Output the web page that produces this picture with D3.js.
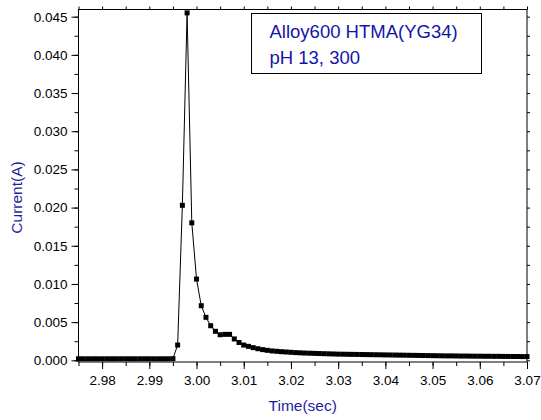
<!DOCTYPE html>
<meta charset="utf-8">
<script src="https://d3js.org/d3.v7.min.js"></script>
<title>Current transient</title>
<style>
  body { margin: 0; background: white; }
  svg text { font-family: "Liberation Sans", Arial, sans-serif; }
</style>
<div id="chart"></div>
<script>

// time (sec), one sample every millisecond
var time = [
  2.975, 2.976, 2.977, 2.978, 2.979, 2.980, 2.981, 2.982, 2.983, 2.984,
  2.985, 2.986, 2.987, 2.988, 2.989, 2.990, 2.991, 2.992, 2.993, 2.994,
  2.995, 2.996, 2.997, 2.998, 2.999, 3.000, 3.001, 3.002, 3.003, 3.004,
  3.005, 3.006, 3.007, 3.008, 3.009, 3.010, 3.011, 3.012, 3.013, 3.014,
  3.015, 3.016, 3.017, 3.018, 3.019, 3.020, 3.021, 3.022, 3.023, 3.024,
  3.025, 3.026, 3.027, 3.028, 3.029, 3.030, 3.031, 3.032, 3.033, 3.034,
  3.035, 3.036, 3.037, 3.038, 3.039, 3.040, 3.041, 3.042, 3.043, 3.044,
  3.045, 3.046, 3.047, 3.048, 3.049, 3.050, 3.051, 3.052, 3.053, 3.054,
  3.055, 3.056, 3.057, 3.058, 3.059, 3.060, 3.061, 3.062, 3.063, 3.064,
  3.065, 3.066, 3.067, 3.068, 3.069, 3.070
];

// current (A)
var current = [
  0.00020, 0.00020, 0.00020, 0.00020, 0.00020, 0.00020, 0.00020, 0.00020, 0.00020, 0.00020,
  0.00020, 0.00020, 0.00020, 0.00020, 0.00020, 0.00020, 0.00020, 0.00020, 0.00020, 0.00020,
  0.00022, 0.00200, 0.02030, 0.04550, 0.01800, 0.01064, 0.00715, 0.00563, 0.00453, 0.00380,
  0.00335, 0.00340, 0.00340, 0.00280, 0.00233, 0.00200, 0.00183, 0.00166, 0.00152, 0.00140,
  0.00131, 0.00123, 0.00118, 0.00113, 0.00109, 0.00105, 0.00101, 0.00098, 0.00095, 0.00093,
  0.00091, 0.00089, 0.00087, 0.00085, 0.00083, 0.00081, 0.00080, 0.00079, 0.00078, 0.00077,
  0.00076, 0.00075, 0.00074, 0.00073, 0.00072, 0.00071, 0.00070, 0.00069, 0.00068, 0.00067,
  0.00066, 0.00065, 0.00064, 0.00063, 0.00062, 0.00061, 0.00060, 0.00059, 0.00058, 0.00058,
  0.00057, 0.00056, 0.00056, 0.00055, 0.00054, 0.00054, 0.00053, 0.00053, 0.00052, 0.00052,
  0.00051, 0.00051, 0.00050, 0.00050, 0.00049, 0.00049
];

var xTicks = [2.98, 2.99, 3.00, 3.01, 3.02, 3.03, 3.04, 3.05, 3.06, 3.07];
var yTicks = [0.000, 0.005, 0.010, 0.015, 0.020, 0.025, 0.030, 0.035, 0.040, 0.045];
var legendLines = ["Alloy600 HTMA(YG34)", "pH 13, 300"];

var data = time.map(function(t, i) { return { t: t, c: current[i] }; });

var W = 541, H = 420;
var margin = {top: 9.5, right: 14, bottom: 58, left: 78.5},
    width = W - margin.left - margin.right,
    height = H - margin.top - margin.bottom;

var svg = d3.select("#chart")
  .append("svg")
    .attr("width", W)
    .attr("height", H)
  .append("g")
    .attr("transform", "translate(" + margin.left + "," + margin.top + ")");

var x = d3.scaleLinear().domain([2.975, 3.07]).range([0, width]);
var y = d3.scaleLinear().domain([-0.00022, 0.04594]).range([height, 0]);

var xMinor = d3.range(2.975, 3.0701, 0.005);
var yMinor = d3.range(0, 0.0459, 0.0025);

function styleAxis(g) {
  g.select(".domain").remove();
  g.selectAll("line").attr("stroke", "#000");
  g.selectAll("text").attr("fill", "#000").style("font-size", "13.5px");
}

// bottom axis: minor then major
svg.append("g")
    .attr("transform", "translate(0," + height + ")")
    .call(d3.axisBottom(x).tickValues(xMinor).tickSize(4).tickFormat(""))
    .call(styleAxis);
svg.append("g")
    .attr("transform", "translate(0," + height + ")")
    .call(d3.axisBottom(x).tickValues(xTicks).tickSize(7).tickPadding(6).tickFormat(d3.format(".2f")))
    .call(styleAxis);

// top axis ticks
svg.append("g")
    .call(d3.axisTop(x).tickValues(xMinor).tickSize(3).tickFormat(""))
    .call(styleAxis);

// left axis
svg.append("g")
    .call(d3.axisLeft(y).tickValues(yMinor).tickSize(4).tickFormat(""))
    .call(styleAxis);
svg.append("g")
    .call(d3.axisLeft(y).tickValues(yTicks).tickSize(7).tickPadding(4).tickFormat(d3.format(".3f")))
    .call(styleAxis);

// right axis ticks
svg.append("g")
    .attr("transform", "translate(" + width + ",0)")
    .call(d3.axisRight(y).tickValues(yMinor).tickSize(3).tickFormat(""))
    .call(styleAxis);

// frame
svg.append("rect")
    .attr("width", width)
    .attr("height", height)
    .attr("fill", "none")
    .attr("stroke", "#000")
    .attr("stroke-width", 1);

// series
var line = d3.line()
    .x(function(d) { return x(d.t); })
    .y(function(d) { return y(d.c); });

svg.append("path")
    .datum(data)
    .attr("fill", "none")
    .attr("stroke", "#000")
    .attr("stroke-width", 1)
    .attr("d", line);

var ms = 5;
svg.selectAll("rect.pt")
  .data(data)
  .enter()
  .append("rect")
    .attr("class", "pt")
    .attr("x", function(d) { return x(d.t) - ms / 2; })
    .attr("y", function(d) { return y(d.c) - ms / 2; })
    .attr("width", ms)
    .attr("height", ms)
    .attr("fill", "#000");

// axis titles
var titleColor = "#1f1f9e";
svg.append("text")
    .attr("text-anchor", "middle")
    .attr("x", width / 2)
    .attr("y", height + 49)
    .attr("fill", titleColor)
    .style("font-size", "15.5px")
    .text("Time(sec)");

svg.append("text")
    .attr("text-anchor", "middle")
    .attr("transform", "translate(" + (-57) + "," + 188 + ") rotate(-90)")
    .attr("fill", titleColor)
    .style("font-size", "15.5px")
    .text("Current(A)");

// legend box
var box = svg.append("g")
    .attr("transform", "translate(" + (251.5 - margin.left) + "," + (13.5 - margin.top) + ")");
box.append("rect")
    .attr("width", 230)
    .attr("height", 60)
    .attr("fill", "white")
    .attr("stroke", "#000")
    .attr("stroke-width", 1);
box.selectAll("text")
  .data(legendLines)
  .enter()
  .append("text")
    .attr("x", 18)
    .attr("y", function(d, i) { return 24 + i * 26; })
    .attr("fill", "#1414a8")
    .style("font-size", "18.5px")
    .text(function(d) { return d; });

</script>
